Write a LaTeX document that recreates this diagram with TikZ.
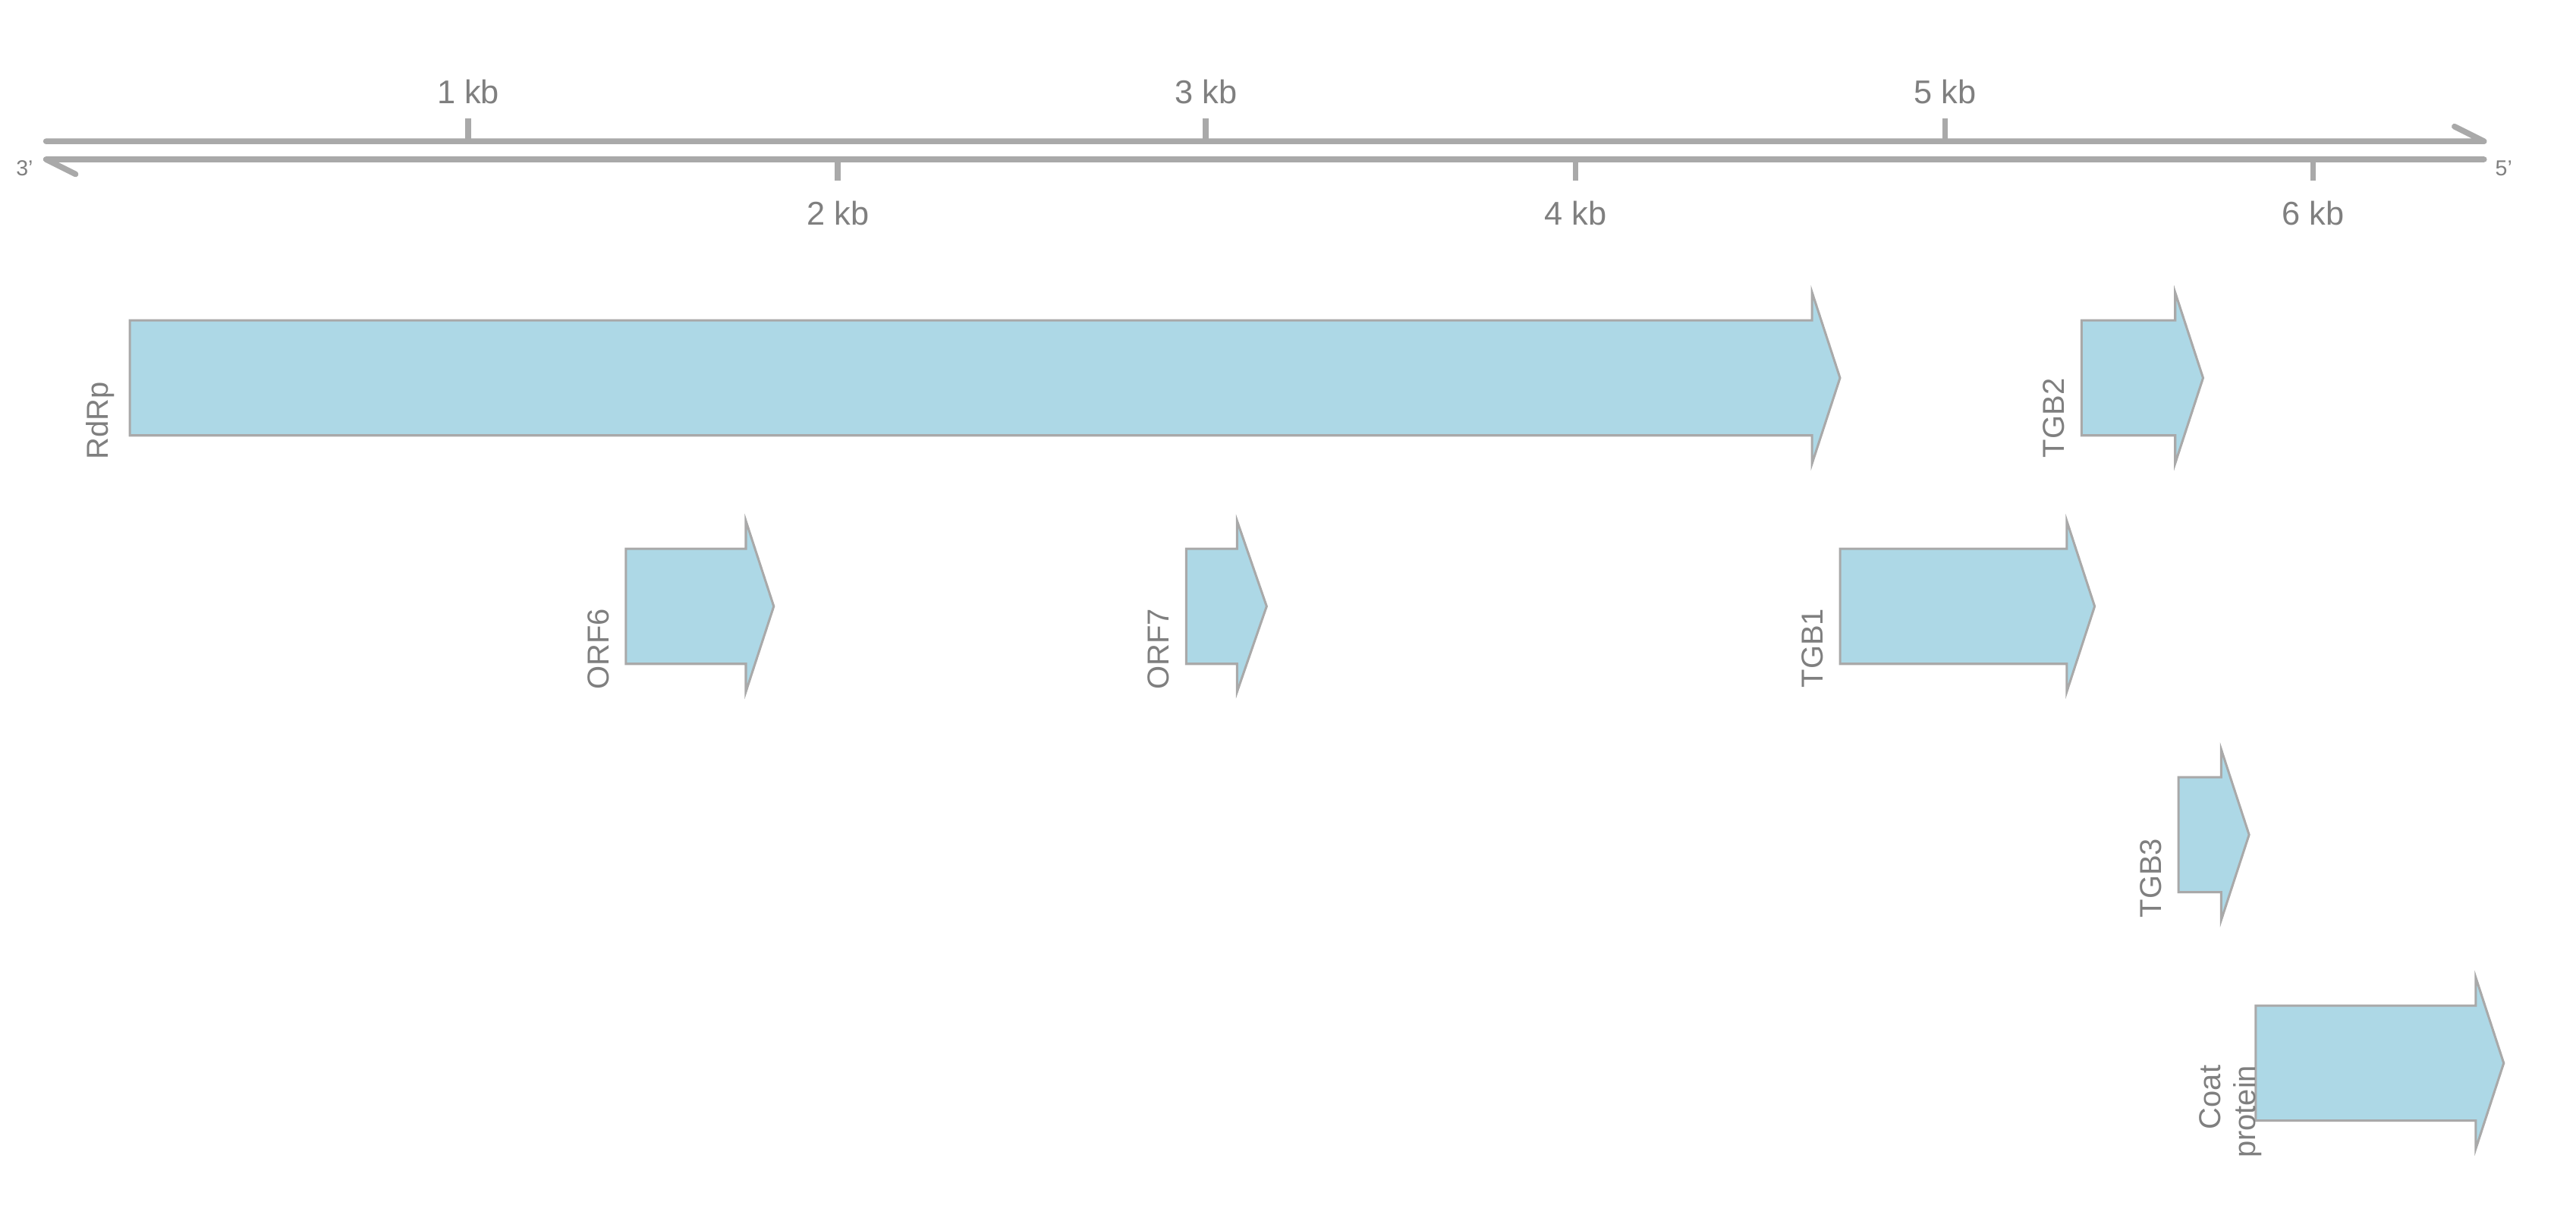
\documentclass[tikz,border=0pt]{standalone}
\usepackage{fontspec}
\setmainfont{Liberation Sans}
\definecolor{genefill}{RGB}{173, 216, 230}
\definecolor{linegray}{RGB}{169, 169, 169}
\definecolor{textgray}{RGB}{127, 127, 127}

\begin{document}
\begin{tikzpicture}[
  x=0.02cm, y=-0.02cm,
  axis/.style={draw=linegray, line width=2pt, line cap=round, line join=round},
  tickmark/.style={draw=linegray, line width=2pt},
  gene/.style={fill=genefill, draw=linegray, line width=0.8pt},
  ticklabel/.style={text=textgray, font=\fontsize{11.4}{13}\selectfont, inner sep=0pt, anchor=base},
  endlabel/.style={text=textgray, font=\fontsize{7.5}{9}\selectfont, inner sep=0pt, anchor=base},
  genelabel/.style={text=textgray, font=\fontsize{10.5}{12}\selectfont, inner sep=0pt, rotate=90, anchor=south east, align=right},
]
\useasboundingbox (0, 0) rectangle (1568, 739);

% Genome axis: two strands
\coordinate (top5) at (1512, 86);
\coordinate (top3) at (28, 86);
\coordinate (bot5) at (1512, 97);
\coordinate (bot3) at (28, 97);
\draw[axis] (top3) -- (top5) -- ++(-18, -9);
\draw[axis] (bot5) -- (bot3) -- ++(18, 9);
\node[endlabel] (end3) at (15, 107) {3'};
\node[endlabel] (end5) at (1524, 107) {5'};

% Ticks above (odd kb)
\draw[tickmark] (285, 72) -- (285, 86);
\draw[tickmark] (734, 72) -- (734, 86);
\draw[tickmark] (1184, 72) -- (1184, 86);
\node[ticklabel] (kb1) at (285, 63) {1 kb};
\node[ticklabel] (kb3) at (734, 63) {3 kb};
\node[ticklabel] (kb5) at (1184, 63) {5 kb};

% Ticks below (even kb)
\draw[tickmark] (510, 97) -- (510, 110);
\draw[tickmark] (959, 97) -- (959, 110);
\draw[tickmark] (1408, 97) -- (1408, 110);
\node[ticklabel] (kb2) at (510, 137) {2 kb};
\node[ticklabel] (kb4) at (959, 137) {4 kb};
\node[ticklabel] (kb6) at (1408, 137) {6 kb};

% Row 1
\draw[gene] (79, 195) -- (1103, 195) -- (1103, 178) -- (1120, 230) -- (1103, 282) -- (1103, 265) -- (79, 265) -- cycle;
\node[genelabel] (rdrp) at (70, 232) {RdRp};
\draw[gene] (1267, 195) -- (1324, 195) -- (1324, 178) -- (1341, 230) -- (1324, 282) -- (1324, 265) -- (1267, 265) -- cycle;
\node[genelabel] (tgb2) at (1257, 230) {TGB2};

% Row 2
\draw[gene] (381, 334) -- (454, 334) -- (454, 317) -- (471, 369) -- (454, 421) -- (454, 404) -- (381, 404) -- cycle;
\node[genelabel] (orf6) at (371, 370) {ORF6};
\draw[gene] (722, 334) -- (753, 334) -- (753, 317) -- (771, 369) -- (753, 421) -- (753, 404) -- (722, 404) -- cycle;
\node[genelabel] (orf7) at (712, 370) {ORF7};
\draw[gene] (1120, 334) -- (1258, 334) -- (1258, 317) -- (1275, 369) -- (1258, 421) -- (1258, 404) -- (1120, 404) -- cycle;
\node[genelabel] (tgb1) at (1110, 370) {TGB1};

% Row 3
\draw[gene] (1326, 473) -- (1352, 473) -- (1352, 456) -- (1369, 508) -- (1352, 560) -- (1352, 543) -- (1326, 543) -- cycle;
\node[genelabel] (tgb3) at (1316, 510) {TGB3};

% Row 4
\draw[gene] (1373, 612) -- (1507, 612) -- (1507, 595) -- (1524, 647) -- (1507, 699) -- (1507, 682) -- (1373, 682) -- cycle;
\node[genelabel] (coat) at (1377, 648) {Coat\\protein};
\end{tikzpicture}
\end{document}
